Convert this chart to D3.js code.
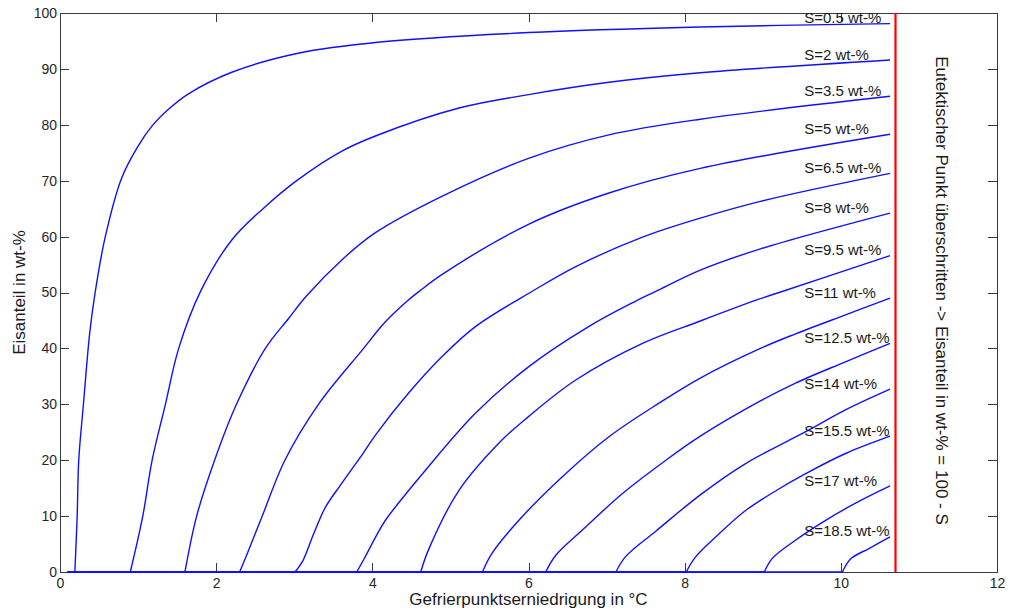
<!DOCTYPE html>
<html>
<head>
<meta charset="utf-8">
<script src="https://cdn.jsdelivr.net/npm/d3@7"></script>
<style>
  html, body { margin: 0; padding: 0; background: #fff; }
  svg { display: block; font-family: Arial, "Liberation Sans", sans-serif; }
  .axis path, .axis line { stroke: #3a3a3a; stroke-width: 1; shape-rendering: crispEdges; }
  .axis text { fill: #262626; font-size: 14px; font-family: Arial, "Liberation Sans", sans-serif; }
</style>
</head>
<body>
<svg id="chart" width="1010" height="612"></svg>
<script>
// Ice fraction (wt-%) versus freezing point depression (°C) for several bulk salinities.
// Each list holds [freezing point depression in °C, ice fraction in wt-%].
const salinities = [0.5, 2, 3.5, 5, 6.5, 8, 9.5, 11, 12.5, 14, 15.5, 17, 18.5];

const iceS0_5 = [[0.1,0],[0.19,0],[0.22,10],[0.24,20],[0.30,30],[0.38,42.7],[0.45,50],[0.58,60],[0.79,70.5],[1.0,76.2],[1.18,79.8],[1.4,82.9],[1.64,85.5],[2.2,89.4],[3.05,92.8],[4.1,94.8],[6.0,96.5],[8.2,97.5],[10.63,98.1]];
const iceS2   = [[0.1,0],[0.9,0],[1.06,10],[1.18,20],[1.35,30],[1.52,40],[1.8,50.2],[2.2,59.4],[2.6,65.0],[3.01,69.8],[3.61,75.3],[4.04,78.0],[5.11,83.0],[6.0,85.4],[7.03,87.6],[8.2,89.3],[10.63,91.6]];
const iceS3_5 = [[0.1,0],[1.6,0],[1.75,10],[1.98,20],[2.26,30],[2.63,40],[2.93,45.4],[3.15,49.3],[3.63,56.1],[4.04,60.7],[4.89,67.2],[6.0,74.0],[7.03,78.2],[8.2,81.0],[10.63,85.1]];
const iceS5   = [[0.1,0],[2.3,0],[2.39,3.0],[2.59,10],[2.88,20],[3.31,30],[3.87,39.7],[4.17,44.8],[4.44,48.4],[4.6,50.2],[4.89,53.2],[6.0,62.2],[7.03,67.8],[8.2,72.2],[10.63,78.3]];
const iceS6_5 = [[0.1,0],[3.01,0],[3.11,2.0],[3.25,6.9],[3.40,11.6],[3.59,15.5],[3.87,21.0],[4.04,24.5],[4.47,32.1],[4.89,38.5],[5.32,43.9],[6.07,50.4],[6.6,54.6],[7.46,59.9],[8.2,63.3],[8.97,66.3],[10.63,71.3]];
const iceS8   = [[0.1,0],[3.8,0],[3.9,2.5],[4.04,6.2],[4.17,9.3],[4.68,18.2],[5.32,28.4],[6.0,36.7],[6.77,43.9],[7.35,48.3],[7.63,50.2],[8.2,54.0],[8.97,57.8],[10.63,64.2]];
const iceS9_5 = [[0.1,0],[4.62,0],[4.72,4.0],[5.11,14.6],[5.66,23.6],[6.0,27.8],[6.6,34.3],[7.46,40.9],[8.2,44.9],[8.95,48.8],[9.21,50.0],[10.63,56.6]];
const iceS11  = [[0.1,0],[5.41,0],[5.53,3.3],[5.88,9.3],[6.43,17.0],[7.03,24.2],[7.67,30.2],[8.2,34.7],[8.97,40.0],[9.42,42.6],[10.06,46.0],[10.63,49.0]];
const iceS12_5= [[0.1,0],[6.22,0],[6.35,3.0],[6.69,7.5],[7.2,14.0],[7.76,20.0],[8.2,24.3],[8.97,30.6],[9.42,33.8],[10.06,37.6],[10.63,40.9]];
const iceS14  = [[0.1,0],[7.12,0],[7.24,2.7],[7.63,7.3],[8.2,13.8],[8.78,19.4],[9.55,25.1],[10.06,29.0],[10.63,32.7]];
const iceS15_5= [[0.1,0],[8.02,0],[8.14,2.7],[8.4,6.3],[8.78,11.0],[9.2,14.8],[9.55,17.6],[10.06,21.2],[10.63,24.3]];
const iceS17  = [[0.1,0],[9.02,0],[9.12,2.4],[9.4,5.5],[9.8,9.2],[10.2,12.4],[10.63,15.4]];
const iceS18_5= [[0.1,0],[10.02,0],[10.13,2.4],[10.36,4.2],[10.63,6.3]];

const iceCurves = [iceS0_5, iceS2, iceS3_5, iceS5, iceS6_5, iceS8, iceS9_5, iceS11, iceS12_5, iceS14, iceS15_5, iceS17, iceS18_5];

const eutecticT = 10.7;          // eutectic point, °C below zero
const labelT = 9.53;             // where the salinity labels start
const xTicks = [0, 2, 4, 6, 8, 10, 12];
const yTicks = [0, 10, 20, 30, 40, 50, 60, 70, 80, 90, 100];

const xTitle = "Gefrierpunktserniedrigung in °C";
const yTitle = "Eisanteil in wt-%";
const eutecticNote = "Eutektischer Punkt überschritten -> Eisanteil in wt-% = 100 - S";

const svg = d3.select("#chart");
const margin = { left: 60, top: 13, right: 13, bottom: 40 };
const W = 1010, H = 612;
const plotW = W - margin.left - margin.right;   // 937
const plotH = H - margin.top - margin.bottom;   // 559

const x = d3.scaleLinear().domain([0, 12]).range([margin.left, margin.left + plotW]);
const y = d3.scaleLinear().domain([0, 100]).range([margin.top + plotH, margin.top]);

// axes with inward ticks on all four sides (boxed frame)
svg.append("g").attr("class", "axis")
  .attr("transform", `translate(0,${margin.top + plotH})`)
  .call(d3.axisBottom(x).tickValues(xTicks).tickFormat(d3.format("d"))
    .tickSizeInner(-9).tickSizeOuter(0).tickPadding(6));
svg.append("g").attr("class", "axis")
  .attr("transform", `translate(0,${margin.top})`)
  .call(d3.axisTop(x).tickValues(xTicks).tickFormat("")
    .tickSizeInner(-9).tickSizeOuter(0));
svg.append("g").attr("class", "axis")
  .attr("transform", `translate(${margin.left},0)`)
  .call(d3.axisLeft(y).tickValues(yTicks).tickFormat(d3.format("d"))
    .tickSizeInner(-9).tickSizeOuter(0).tickPadding(3));
svg.append("g").attr("class", "axis")
  .attr("transform", `translate(${margin.left + plotW},0)`)
  .call(d3.axisRight(y).tickValues(yTicks).tickFormat("")
    .tickSizeInner(-9).tickSizeOuter(0));

// ice fraction curves: flat part (no ice yet) straight, rising part smoothed
const flatLine = d3.line().x(d => x(d[0])).y(d => y(d[1]));
const riseLine = d3.line().x(d => x(d[0])).y(d => y(d[1])).curve(d3.curveCatmullRom.alpha(0.5));

function splitCurve(pts) {
  let k = 0;
  while (k + 1 < pts.length && pts[k + 1][1] === 0) k++;
  return { flat: pts.slice(0, k + 1), rise: pts.slice(k) };
}

const curveGroup = svg.append("g")
  .attr("fill", "none")
  .attr("stroke", "#1010ff")
  .attr("stroke-width", 1.4)
  .attr("stroke-linejoin", "round");

iceCurves.forEach(pts => {
  const parts = splitCurve(pts);
  curveGroup.append("path").attr("d", flatLine(parts.flat));
  curveGroup.append("path").attr("d", riseLine(parts.rise));
});

// salinity labels just above each curve's end
svg.append("g")
  .selectAll("text")
  .data(iceCurves)
  .join("text")
  .attr("x", x(labelT))
  .attr("y", d => y(d[d.length - 1][1] + 1))
  .attr("dy", "0.35em")
  .attr("font-size", 15)
  .attr("fill", "#1a1a1a")
  .text((d, i) => `S=${salinities[i]} wt-%`);

// eutectic point
svg.append("line")
  .attr("x1", x(eutecticT)).attr("x2", x(eutecticT))
  .attr("y1", y(0)).attr("y2", y(100))
  .attr("stroke", "#ff0000")
  .attr("stroke-width", 2.2);

svg.append("text")
  .attr("transform", `translate(936,${margin.top + plotH / 2 - 2}) rotate(90)`)
  .attr("text-anchor", "middle")
  .attr("font-size", 17)
  .attr("fill", "#1a1a1a")
  .text(eutecticNote);

// axis titles
svg.append("text")
  .attr("x", margin.left + plotW / 2)
  .attr("y", 605)
  .attr("text-anchor", "middle")
  .attr("font-size", 17)
  .attr("fill", "#1a1a1a")
  .text(xTitle);

svg.append("text")
  .attr("transform", `translate(25,${margin.top + plotH / 2}) rotate(-90)`)
  .attr("text-anchor", "middle")
  .attr("font-size", 17)
  .attr("fill", "#1a1a1a")
  .text(yTitle);
</script>
</body>
</html>
